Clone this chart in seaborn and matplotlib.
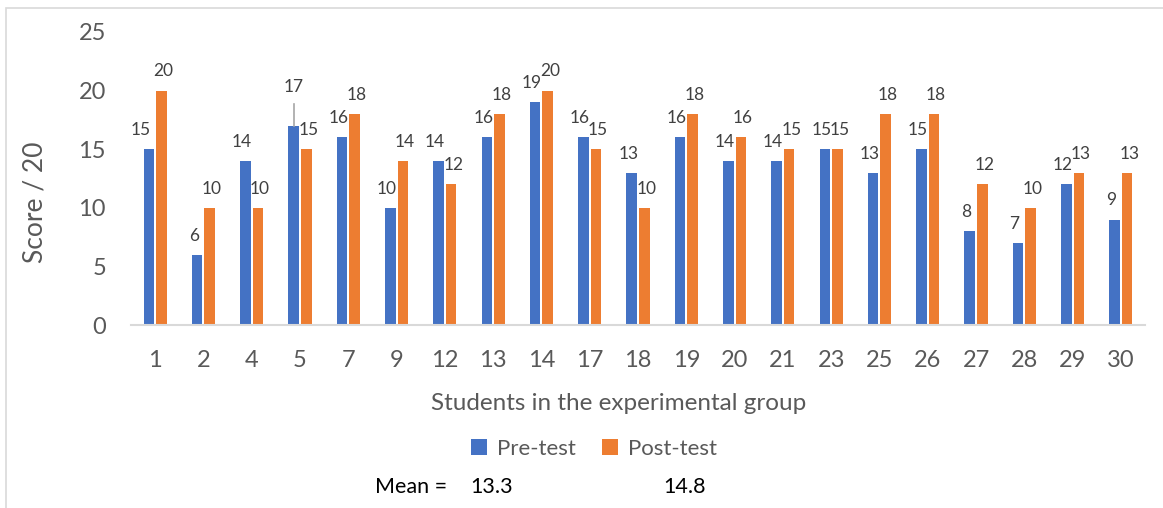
import pandas as pd
import seaborn as sns
import matplotlib.pyplot as plt
from matplotlib.patches import Rectangle

# datos
students = ['1', '2', '4', '5', '7', '9', '12', '13', '14', '17', '18',
            '19', '20', '21', '23', '25', '26', '27', '28', '29', '30']
pre_test = [15, 6, 14, 17, 16, 10, 14, 16, 19, 16, 13, 16, 14, 14, 15, 13, 15, 8, 7, 12, 9]
post_test = [20, 10, 10, 15, 18, 14, 12, 18, 20, 15, 10, 18, 16, 15, 15, 18, 18, 12, 10, 13, 13]
series = ['Pre-test', 'Post-test']
colores = ['#4472C4', '#ED7D31']

gris_texto = '#595959'

df = pd.DataFrame({
    'student': students * 2,
    'test': [series[0]] * len(students) + [series[1]] * len(students),
    'score': pre_test + post_test,
})

plt.rcParams['font.family'] = ['Lato', 'DejaVu Sans']

fig = plt.figure(figsize=(11.63, 5.08), dpi=100)
ax = fig.add_axes([131 / 1163, 1 - 325 / 508, 1014 / 1163, 293 / 508])

sns.barplot(data=df, x='student', y='score', hue='test', order=students,
            hue_order=series, palette=colores, width=0.52, gap=0.15,
            saturation=1, linewidth=0, ax=ax)

ax.set_ylim(0, 25)
ax.set_yticks([0, 5, 10, 15, 20, 25])
ax.set_xlim(-0.5, len(students) - 0.5)
for lado in ['top', 'right', 'left']:
    ax.spines[lado].set_visible(False)
ax.spines['bottom'].set_color('#D9D9D9')
ax.spines['bottom'].set_linewidth(1.5)
ax.tick_params(axis='y', length=0, labelsize=17, labelcolor=gris_texto, pad=18)
ax.tick_params(axis='x', length=0, labelsize=17, labelcolor=gris_texto, pad=18)
ax.set_xlabel('')
ax.set_ylabel('')

# etiquetas de datos (las azules un poco a la izquierda, las naranjas a la derecha)
etiquetas = []
desplaz = [-2.5, 1.5]
for cont, dx in zip(ax.containers, desplaz):
    labs = ax.bar_label(cont, padding=8, fontsize=12.5, color='#404040')
    for t in labs:
        t.xyann = (dx, 8)
    etiquetas.append(labs)

# ajustes manuales como en el original
etiquetas[0][0].xyann = (-6, 8)
etiquetas[0][3].xyann = (0, 22)
barra = ax.containers[0][3]
xc = barra.get_x() + barra.get_width() / 2
ax.plot([xc, xc], [barra.get_height(), barra.get_height() + 1.85],
        color='#A6A6A6', lw=1.2)

handles, labels = ax.get_legend_handles_labels()
ax.get_legend().remove()

fig.text(35 / 1163, 1 - 202 / 508, 'Score / 20', rotation=90, ha='center', va='center',
         fontsize=19, color=gris_texto)
fig.text(619 / 1163, 1 - 404 / 508, 'Students in the experimental group',
         ha='center', va='center', fontsize=17.5, color=gris_texto)

fig.legend(handles, labels, loc='center', bbox_to_anchor=(594 / 1163, 1 - 449 / 508),
           ncol=2, frameon=False, fontsize=16, labelcolor=gris_texto,
           handlelength=0.7, handleheight=0.7, handletextpad=0.45,
           columnspacing=1.2)

# medias
medias = [sum(pre_test) / len(pre_test), sum(post_test) / len(post_test)]
fig.text(375 / 1163, 1 - 487 / 508, 'Mean =', ha='left', va='center', fontsize=15.5, color='black')
fig.text(470 / 1163, 1 - 487 / 508, f'{medias[0]:.1f}', ha='left', va='center', fontsize=15.5, color='black')
fig.text(663 / 1163, 1 - 487 / 508, f'{medias[1]:.1f}', ha='left', va='center', fontsize=15.5, color='black')

# marco gris del grafico
fig.patches.append(Rectangle((5.5 / 1163, -0.1), 1.2, 1 - 8.5 / 508 + 0.1,
                             transform=fig.transFigure, fill=False,
                             edgecolor='#D9D9D9', linewidth=1.2))

fig.savefig('out.png', dpi=100)
